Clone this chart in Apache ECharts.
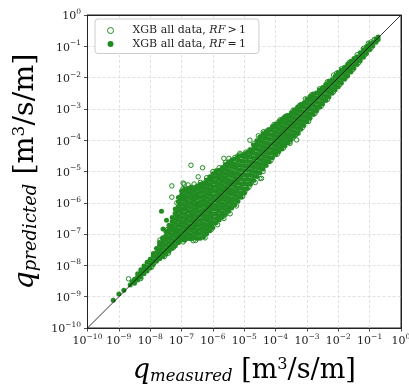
<!DOCTYPE html>
<html><head><meta charset="utf-8">
<script src="https://cdn.jsdelivr.net/npm/echarts@6/dist/echarts.min.js"></script>
<style>html,body{margin:0;padding:0;background:#fff}#c{width:409px;height:385px}</style>
</head><body><div id="c"></div>
<script>
// All values are log10 of q [m3/s/m]; axes are drawn on the log10 scale with 10^n labels
const tickExponents = [-10,-9,-8,-7,-6,-5,-4,-3,-2,-1,0];
const tickLabels = ['\u221210','\u22129','\u22128','\u22127','\u22126','\u22125','\u22124','\u22123','\u22122','\u22121','0'];
const seriesNames = ['XGB all data, RF > 1', 'XGB all data, RF = 1'];
const legendRelation = ['>', '='];
const diagonalExp = [-10, 0];

// RF = 1 (filled): log10 measured column -> log10 predicted values
const rf1Measured = [-9.18,-9.0,-8.84,-8.64,-8.58,-7.64,-7.59,-7.48,-8.5,-8.4,-8.3,-8.2,-8.1,-8.0,-7.9,-7.8,-7.7,-7.6,-7.5,-7.4,-7.3,-7.2,-7.1,-7.0,-6.9,-6.8,-6.7,-6.6,-6.5,-6.4,-6.3,-6.2,-6.1,-6.0,-5.9,-5.8,-5.7,-5.6,-5.5,-5.4,-5.3,-5.2,-5.1,-5.0,-4.9,-4.8,-4.7,-4.6,-4.5,-4.4,-4.3,-4.2,-4.1,-4.0,-3.9,-3.8,-3.7,-3.6,-3.5,-3.4,-3.3,-3.2,-3.1,-3.0,-2.9,-2.8,-2.7,-2.6,-2.5,-2.4,-2.3,-2.2,-2.1,-2.0,-1.9,-1.8,-1.7,-1.6,-1.5,-1.4,-1.3,-1.2,-1.1,-1.0,-0.9,-0.8,-0.73];
const rf1Predicted = [
[-9.11],[-8.91],[-8.79],[-8.63],[-8.52],[-6.27],[-6.84],[-6.56],
[-8.57,-8.44],
[-8.47,-8.36,-8.27],
[-8.38,-8.25,-8.14],
[-8.27,-8.13,-8.02],
[-8.18,-8.04,-7.9],
[-8.08,-7.94,-7.8],
[-7.97,-7.84,-7.7,-7.62],
[-7.87,-7.73,-7.6,-7.46],
[-7.79,-7.65,-7.5,-7.36,-7.27],
[-7.72,-7.58,-7.43,-7.28,-7.12],
[-7.64,-7.5,-7.35,-7.2,-7.05,-6.92],
[-7.55,-7.42,-7.27,-7.12,-6.97,-6.83,-6.72],
[-7.46,-7.32,-7.17,-7.02,-6.88,-6.74,-6.6,-6.47],
[-7.37,-7.23,-7.08,-6.94,-6.8,-6.65,-6.5,-6.35,-6.2],
[-7.28,-7.14,-7.0,-6.86,-6.71,-6.56,-6.42,-6.27,-6.12,-5.97,-5.83],
[-7.19,-7.05,-6.9,-6.76,-6.62,-6.47,-6.32,-6.18,-6.03,-5.89,-5.75,-5.62],
[-7.2,-7.07,-6.93,-6.79,-6.64,-6.5,-6.36,-6.21,-6.06,-5.92,-5.78,-5.64,-5.56],
[-7.14,-7.0,-6.85,-6.7,-6.56,-6.42,-6.27,-6.12,-5.98,-5.83,-5.68,-5.54],
[-7.15,-7.02,-6.88,-6.73,-6.58,-6.44,-6.3,-6.15,-6.0,-5.86,-5.72,-5.58,-5.5],
[-7.1,-6.95,-6.8,-6.66,-6.52,-6.37,-6.22,-6.08,-5.93,-5.79,-5.64,-5.52],
[-7.14,-7.0,-6.86,-6.72,-6.57,-6.43,-6.28,-6.14,-6.0,-5.85,-5.71,-5.57,-5.46],
[-7.13,-6.98,-6.84,-6.69,-6.55,-6.4,-6.26,-6.11,-5.97,-5.82,-5.67,-5.53,-5.41],
[-7.09,-6.95,-6.8,-6.66,-6.51,-6.37,-6.22,-6.08,-5.93,-5.79,-5.64,-5.5,-5.37],
[-6.99,-6.85,-6.7,-6.56,-6.41,-6.27,-6.12,-5.98,-5.83,-5.69,-5.54,-5.4,-5.27],
[-6.89,-6.74,-6.6,-6.45,-6.31,-6.16,-6.02,-5.87,-5.73,-5.58,-5.44,-5.29,-5.17],
[-6.79,-6.65,-6.5,-6.36,-6.21,-6.07,-5.92,-5.78,-5.63,-5.49,-5.34,-5.2,-5.07],
[-6.64,-6.5,-6.35,-6.21,-6.06,-5.92,-5.77,-5.63,-5.48,-5.34,-5.19,-5.05,-4.98],
[-6.55,-6.41,-6.26,-6.12,-5.97,-5.83,-5.68,-5.54,-5.39,-5.25,-5.1,-4.96],
[-6.46,-6.32,-6.17,-6.03,-5.88,-5.74,-5.59,-5.45,-5.3,-5.16,-5.01,-4.87],
[-6.37,-6.22,-6.08,-5.93,-5.79,-5.64,-5.5,-5.35,-5.21,-5.06,-4.92,-4.78],
[-6.27,-6.13,-5.98,-5.84,-5.69,-5.55,-5.4,-5.26,-5.11,-4.97,-4.82,-4.7],
[-6.17,-6.02,-5.88,-5.73,-5.59,-5.44,-5.3,-5.15,-5.01,-4.86,-4.72,-4.63],
[-6.06,-5.92,-5.77,-5.63,-5.48,-5.34,-5.19,-5.05,-4.9,-4.76,-4.6],
[-5.95,-5.81,-5.66,-5.52,-5.37,-5.23,-5.08,-4.94,-4.79,-4.65,-4.53],
[-5.82,-5.68,-5.53,-5.39,-5.24,-5.1,-4.95,-4.81,-4.66,-4.5],
[-5.69,-5.55,-5.4,-5.26,-5.11,-4.97,-4.82,-4.68,-4.53,-4.44],
[-5.54,-5.4,-5.25,-5.11,-4.96,-4.82,-4.67,-4.53,-4.39],
[-5.41,-5.27,-5.12,-4.98,-4.83,-4.69,-4.54,-4.4,-4.31],
[-5.29,-5.15,-5.0,-4.86,-4.71,-4.57,-4.42,-4.28,-4.16],
[-5.16,-5.02,-4.87,-4.73,-4.58,-4.44,-4.29,-4.15,-4.02],
[-5.04,-4.9,-4.75,-4.61,-4.46,-4.32,-4.17,-4.03,-3.9],
[-4.92,-4.78,-4.63,-4.49,-4.34,-4.2,-4.05,-3.91,-3.81],
[-4.81,-4.67,-4.52,-4.38,-4.23,-4.09,-3.94,-3.8,-3.73],
[-4.69,-4.55,-4.4,-4.26,-4.11,-3.97,-3.82,-3.66],
[-4.56,-4.42,-4.27,-4.13,-3.98,-3.84,-3.69,-3.56],
[-4.46,-4.32,-4.17,-4.03,-3.88,-3.74,-3.59,-3.48],
[-4.37,-4.23,-4.08,-3.94,-3.79,-3.65,-3.5,-3.41],
[-4.28,-4.14,-3.99,-3.85,-3.7,-3.56,-3.41,-3.34],
[-4.18,-4.04,-3.89,-3.75,-3.6,-3.46,-3.31,-3.27],
[-4.08,-3.94,-3.79,-3.65,-3.5,-3.36,-3.21],
[-3.98,-3.84,-3.69,-3.55,-3.4,-3.26,-3.12],
[-3.87,-3.73,-3.58,-3.44,-3.29,-3.15,-3.04],
[-3.76,-3.62,-3.47,-3.33,-3.18,-3.04,-2.95],
[-3.65,-3.51,-3.36,-3.22,-3.07,-2.93,-2.86],
[-3.53,-3.39,-3.24,-3.1,-2.95,-2.81],
[-3.41,-3.27,-3.12,-2.98,-2.83,-2.69],
[-3.3,-3.16,-3.01,-2.87,-2.72,-2.6],
[-3.18,-3.04,-2.89,-2.75,-2.6,-2.52],
[-3.07,-2.93,-2.78,-2.64,-2.49],
[-2.95,-2.81,-2.66,-2.52,-2.4],
[-2.84,-2.7,-2.55,-2.41,-2.32],
[-2.73,-2.59,-2.44,-2.3,-2.22],
[-2.62,-2.48,-2.33,-2.19,-2.12],
[-2.5,-2.36,-2.21,-2.07],
[-2.39,-2.25,-2.1,-1.96],
[-2.29,-2.15,-2.0,-1.86],
[-2.17,-2.03,-1.88,-1.76],
[-2.05,-1.91,-1.77,-1.67],
[-1.94,-1.8,-1.66,-1.57],
[-1.82,-1.69,-1.56,-1.48],
[-1.7,-1.57,-1.45,-1.39],
[-1.58,-1.46,-1.33],
[-1.46,-1.34,-1.21],
[-1.35,-1.23,-1.11],
[-1.23,-1.11,-1.01],
[-1.11,-0.99,-0.92],
[-0.99,-0.88],
[-0.87,-0.77],
[-0.78,-0.7]
];

// RF > 1 (open circles): [log10 measured, log10 predicted]
const rfGtPoints = [
[-8.69,-8.43],[-8.3,-8.42],[-7.95,-8.05],[-7.74,-7.61],[-7.79,-7.61],[-7.42,-7.61],[-7.69,-7.19],[-7.53,-7.24],[-7.55,-7.72],[-7.6,-7.15],
[-7.45,-6.85],[-7.25,-7.42],[-7.2,-6.34],[-7.31,-5.46],[-7.31,-5.82],[-7.15,-6.0],[-6.95,-5.37],[-6.92,-5.4],[-6.79,-5.43],[-6.6,-5.4],
[-6.51,-5.51],[-6.7,-4.8],[-6.33,-4.88],[-6.47,-5.17],[-6.95,-5.55],[-6.85,-5.6],[-6.95,-7.25],[-6.83,-7.13],[-6.64,-7.13],[-6.63,-7.21],
[-6.55,-7.2],[-6.4,-5.35],[-6.25,-7.12],[-6.2,-5.2],[-6.11,-6.74],[-6.09,-6.44],[-6.05,-6.85],[-6.0,-5.0],[-5.85,-6.7],[-5.8,-4.88],
[-5.65,-4.58],[-5.65,-6.5],[-5.6,-4.72],[-5.56,-6.18],[-5.49,-4.58],[-5.45,-6.35],[-5.4,-5.8],[-5.3,-4.55],[-5.25,-6.1],[-5.2,-4.5],
[-5.14,-4.42],[-5.14,-4.47],[-5.08,-5.7],[-5.05,-5.8],[-5.0,-5.68],[-4.98,-5.64],[-4.95,-4.38],[-4.85,-5.5],[-4.82,-4.31],[-4.82,-4.0],
[-4.7,-4.12],[-4.65,-5.35],[-4.55,-3.86],[-4.5,-5.22],[-4.45,-5.22],[-4.4,-5.0],[-4.39,-3.78],[-4.39,-3.73],[-4.25,-3.68],[-4.15,-4.65],
[-4.05,-3.5],[-3.95,-4.45],[-3.86,-3.35],[-3.86,-3.41],[-3.75,-4.25],[-3.75,-3.3],[-3.7,-3.25],[-3.65,-3.22],[-3.55,-4.05],[-3.54,-4.1],
[-3.44,-3.04],[-3.38,-3.04],[-3.35,-3.82],[-3.33,-3.99],[-3.28,-3.78],[-3.25,-2.9],[-3.15,-3.6],[-3.05,-2.68],[-2.95,-3.4],[-2.85,-2.55],
[-2.8,-2.72],[-2.75,-3.15],[-2.69,-3.05],[-2.6,-2.36],[-2.55,-2.92],[-2.35,-2.14],[-2.35,-2.7],[-2.15,-1.92],[-2.15,-2.45],[-2.05,-1.86],
[-2.0,-1.84],[-1.95,-2.22],[-1.9,-1.72],[-1.75,-1.98],[-1.65,-1.52],[-1.55,-1.75],[-1.4,-1.27],[-1.35,-1.52],[-1.2,-1.07],[-1.15,-1.27],
[-1.04,-0.9],[-0.95,-0.86],[-0.95,-1.05],[-0.85,-0.78],[-0.77,-0.8]
];

const rf1Data = [];
rf1Measured.forEach((m, i) => rf1Predicted[i].forEach(p => rf1Data.push([m, p])));
const rfGtData = rfGtPoints.map(([m, p]) => [m, p]);
const diagData = diagonalExp.map(e => [e, e]);

const SERIF = 'DejaVu Serif';
const GREEN = '#228b22';
const labelRich = {
  b: {fontFamily: SERIF, fontSize: 11, lineHeight: 14, verticalAlign: 'bottom', color: '#222'},
  s: {fontFamily: SERIF, fontSize: 7.5, lineHeight: 8, verticalAlign: 'top', color: '#222'}
};
const fmtTick = v => {
  const idx = tickExponents.indexOf(Math.round(v));
  return idx < 0 ? '' : '{b|10}{s|' + tickLabels[idx] + '}';
};
const makeNameRich = (main, sub) => ({
  q: {fontFamily: SERIF, fontStyle: 'italic', fontSize: main, lineHeight: main + 1, verticalAlign: 'top', color: '#000'},
  sub: {fontFamily: SERIF, fontStyle: 'italic', fontSize: sub, lineHeight: sub + 0.5, verticalAlign: 'bottom', color: '#000'},
  t: {fontFamily: SERIF, fontSize: main, lineHeight: main + 1, verticalAlign: 'top', color: '#000'},
  sup: {fontFamily: SERIF, fontSize: main * 0.6, lineHeight: main - 2, verticalAlign: 'top', color: '#000'}
});
const axisCommon = {
  type: 'value', min: tickExponents[0], max: tickExponents[tickExponents.length - 1], interval: 1,
  axisLine: {show: true, onZero: false, lineStyle: {color: '#222', width: 1}},
  axisTick: {show: true, inside: false, length: 3.5, lineStyle: {color: '#222', width: 0.8}},
  minorTick: {show: false},
  splitLine: {show: true, showMinLine: false, showMaxLine: false, lineStyle: {color: '#d9d9d9', width: 0.8, type: [3, 2]}},
  nameLocation: 'middle'
};
const spineAxis = {
  type: 'value', min: tickExponents[0], max: tickExponents[tickExponents.length - 1], interval: 1,
  axisLine: {show: true, onZero: false, lineStyle: {color: '#222', width: 1}},
  axisTick: {show: false}, axisLabel: {show: false}, splitLine: {show: false}, z: 10
};

const chart = echarts.init(document.getElementById('c'), null, {renderer: 'canvas'});
chart.setOption({
  animation: false,
  backgroundColor: '#fff',
  grid: {left: 87.5, right: 8, top: 15, bottom: 57, containLabel: false, outerBoundsMode: 'none',
         show: true, borderColor: '#222', borderWidth: 1, backgroundColor: 'transparent'},
  legend: {
    orient: 'vertical', left: 95, top: 19,
    padding: [6, 13, 4, 12], itemGap: 2.5,
    itemWidth: 6, itemHeight: 6,
    backgroundColor: 'rgba(255,255,255,0.85)', borderColor: '#cccccc', borderWidth: 1, borderRadius: 3,
    data: [
      {name: seriesNames[0], icon: 'circle', itemStyle: {color: 'rgba(255,255,255,0)', borderColor: GREEN, borderWidth: 1}},
      {name: seriesNames[1], icon: 'circle', itemStyle: {color: GREEN, borderWidth: 0}}
    ],
    formatter: name => {
      const rel = legendRelation[seriesNames.indexOf(name)];
      return '{g|}{n|XGB all data, }{i|RF}{n|\u2009' + rel + '\u2009}{n|1}';
    },
    textStyle: {
      fontFamily: SERIF, fontSize: 11, color: '#222',
      rich: {
        g: {width: 14},
        n: {fontFamily: SERIF, fontSize: 11, color: '#222', lineHeight: 14},
        i: {fontFamily: SERIF, fontSize: 11, fontStyle: 'italic', color: '#222', lineHeight: 14}
      }
    }
  },
  xAxis: [
    Object.assign({}, axisCommon, {
      name: '{q|q}{sub|measured}{t| [m}{sup|3}{t|/s/m]}',
      nameGap: 29,
      nameTextStyle: {rich: makeNameRich(27, 16.5)},
      axisLabel: {margin: 5, interval: 0, showMinLabel: true, showMaxLabel: true, formatter: fmtTick, rich: labelRich}
    }),
    Object.assign({}, spineAxis, {position: 'top'})
  ],
  yAxis: [
    Object.assign({}, axisCommon, {
      name: '{q|q}{sub|predicted}{t| [m}{sup|3}{t|/s/m]}',
      nameRotate: 90,
      nameGap: 44,
      nameTextStyle: {rich: makeNameRich(28.5, 18)},
      axisLabel: {margin: 6.5, interval: 0, showMinLabel: true, showMaxLabel: true, formatter: fmtTick, rich: labelRich}
    }),
    Object.assign({}, spineAxis, {position: 'right'})
  ],
  series: [
    {
      name: seriesNames[0], type: 'scatter', data: rfGtData,
      symbol: 'circle', symbolSize: 4.5, z: 2, silent: true,
      itemStyle: {color: 'rgba(255,255,255,0)', borderColor: GREEN, borderWidth: 1, opacity: 1}
    },
    {
      name: seriesNames[1], type: 'scatter', data: rf1Data,
      symbol: 'circle', symbolSize: 5, z: 3, silent: true,
      itemStyle: {color: GREEN, opacity: 1}
    },
    {
      name: 'diag', type: 'line', data: diagData, symbol: 'none', z: 4, silent: true,
      lineStyle: {color: '#000', width: 0.8}
    }
  ]
});
</script>
</body></html>
